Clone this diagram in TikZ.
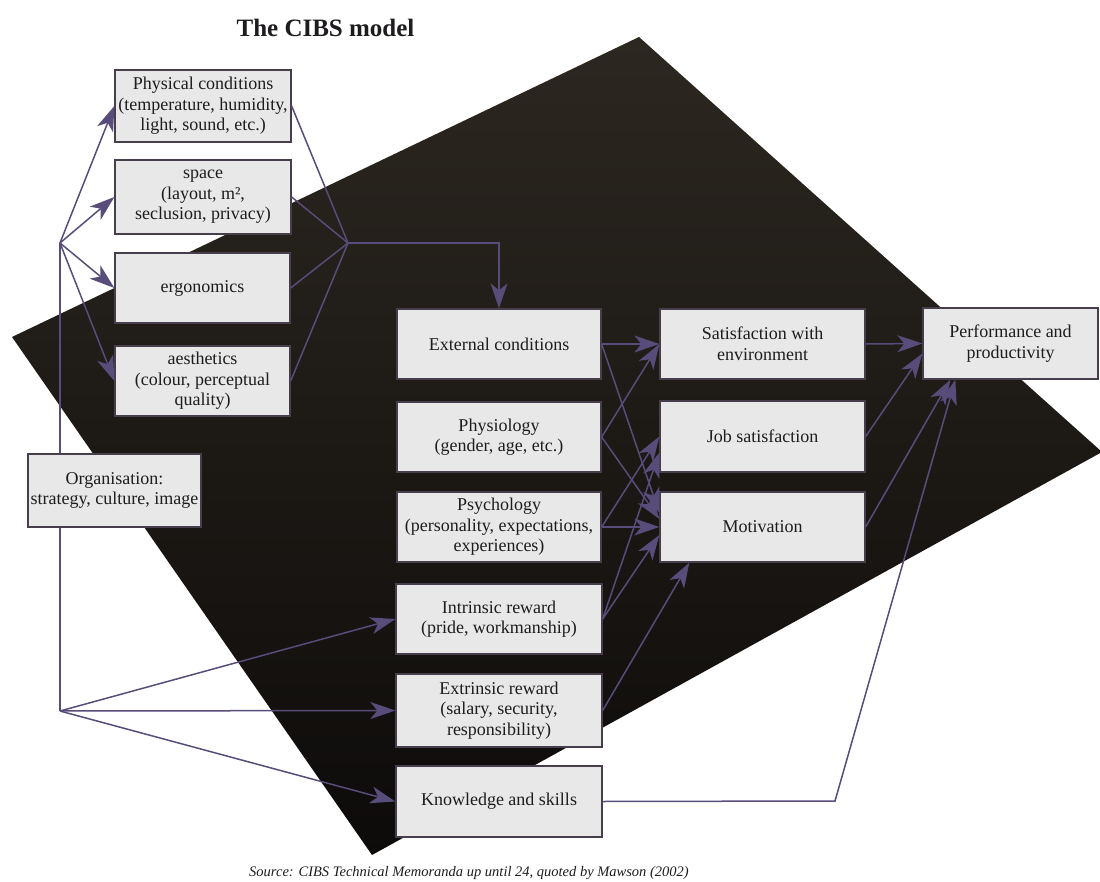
\documentclass[tikz,border=0pt]{standalone}
\usepackage{fontspec}
\setmainfont{Liberation Serif}
\usetikzlibrary{arrows.meta}
\definecolor{lc}{RGB}{88,76,122}
\definecolor{boxfill}{RGB}{232,232,232}
\definecolor{boxline}{RGB}{70,62,75}
\definecolor{txt}{RGB}{30,28,30}
\definecolor{qtop}{RGB}{44,39,32}
\definecolor{qbot}{RGB}{13,11,10}
\begin{document}
\begin{tikzpicture}[x=1pt,y=-1pt,
  box/.style={draw=boxline, line width=1.3pt, fill=boxfill, inner sep=0pt,
    align=center, text=txt, font=\fontsize{18}{20.5}\selectfont},
  con/.style={draw=lc, line width=1.5pt},
  arr/.style={con, -{Stealth[length=25pt,width=17pt,inset=7pt]}}]
\useasboundingbox (0,0) rectangle (1100,882);
\shade[top color=qtop, bottom color=qbot] (12,337) -- (639,37) -- (1102,452) -- (372,855) -- cycle;

\node[font=\fontsize{25}{28}\selectfont\bfseries, text=txt, anchor=base] (title) at (325.5,37) {The CIBS model};

\coordinate (hubL) at (60,243);
\coordinate (hubB) at (60,711);
\coordinate (hubR) at (348,243);
\coordinate (kc) at (835,801);
\draw[con] (hubL) -- (hubB);

\node[box, minimum width=176pt, minimum height=72pt] (phys) at (203,106) {Physical conditions\\(temperature, humidity,\\light, sound, etc.)};
\node[box, minimum width=176pt, minimum height=74pt] (space) at (203,197) {space\\(layout, m²,\\seclusion, privacy)};
\node[box, minimum width=175pt, minimum height=70pt] (ergo) at (202.5,288) {ergonomics};
\node[box, minimum width=175pt, minimum height=70pt] (aest) at (202.5,381) {aesthetics\\(colour, perceptual\\quality)};
\node[box, minimum width=173pt, minimum height=73pt] (org) at (114.5,490.5) {Organisation:\\strategy, culture, image};

\node[box, minimum width=204pt, minimum height=70pt] (ext) at (499,344) {External conditions};
\node[box, minimum width=204pt, minimum height=70pt] (physio) at (499,437) {Physiology\\(gender, age, etc.)};
\node[box, minimum width=204pt, minimum height=70pt] (psych) at (499,527) {Psychology\\(personality, expectations,\\experiences)};
\node[box, minimum width=206pt, minimum height=70pt] (intr) at (499,619) {Intrinsic reward\\(pride, workmanship)};
\node[box, minimum width=206pt, minimum height=73pt] (extr) at (499,710.5) {Extrinsic reward\\(salary, security,\\responsibility)};
\node[box, minimum width=206pt, minimum height=71pt] (know) at (499,801.5) {Knowledge and skills};

\node[box, minimum width=205pt, minimum height=70pt] (sat) at (762.5,344) {Satisfaction with\\environment};
\node[box, minimum width=205pt, minimum height=71pt] (job) at (762.5,436.5) {Job satisfaction};
\node[box, minimum width=205pt, minimum height=70pt] (mot) at (762.5,527) {Motivation};
\node[box, minimum width=175pt, minimum height=71pt] (perf) at (1010.5,343.5) {Performance and\\productivity};

\node[font=\fontsize{14.5}{17}\selectfont\itshape, text=txt, anchor=base] (src) at (469,876) {Source: CIBS Technical Memoranda up until 24, quoted by Mawson (2002)};

% left fans
\draw[arr] (hubL) -- (phys.west);
\draw[arr] (hubL) -- (space.west);
\draw[arr] (hubL) -- (ergo.west);
\draw[arr] (hubL) -- (aest.west);
\draw[arr] (hubB) -- (intr.west);
\draw[arr] (hubB) -- (extr.west);
\draw[arr] (hubB) -- (know.west);

% converge to external conditions
\draw[con] (phys.east) -- (hubR);
\draw[con] (space.east) -- (hubR);
\draw[con] (ergo.east) -- (hubR);
\draw[con] (aest.east) -- (hubR);
\draw[arr] (hubR) -| (ext.north);

% middle to right
\draw[arr] (ext.east) -- (sat.west);
\draw[arr] (ext.east) -- ([yshift=14pt]mot.west);
\draw[arr] (physio.east) -- (sat.west);
\draw[arr] (physio.east) -- ([yshift=8pt]mot.west);
\draw[arr] (psych.east) -- (mot.west);
\draw[arr] (psych.east) -- (job.west);
\draw[arr] (intr.east) -- ([yshift=-16pt]job.west);
\draw[arr] (intr.east) -- ([yshift=-8pt]mot.west);
\draw[arr] (extr.east) -- ([xshift=30pt]mot.south west);

% right to performance
\draw[arr] (sat.east) -- (perf.west);
\draw[arr] (job.east) -- ([yshift=-10pt]perf.west);
\draw[arr] (mot.east) -- ([xshift=28pt]perf.south west);
\draw[arr] (know.east) -- (kc) -- ([xshift=33pt]perf.south west);
\end{tikzpicture}
\end{document}
